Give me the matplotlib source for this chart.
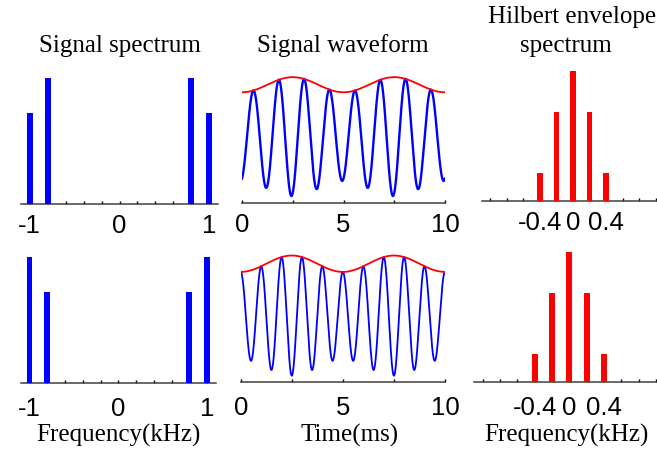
import numpy as np
import matplotlib
matplotlib.use('Agg')
import matplotlib.pyplot as plt

plt.rcParams['axes.unicode_minus'] = False

# Signal spectrum (kHz, relative magnitude)
spec_freqs = [-1.0, -0.8, 0.8, 1.0]
spec_top = [0.72, 1.0, 1.0, 0.72]
spec_bottom = [1.0, 0.72, 0.72, 1.0]

# Hilbert envelope spectrum
env_freqs = [-0.4, -0.2, 0.0, 0.2, 0.4]
env_spec_top = [0.215, 0.685, 1.0, 0.685, 0.215]
env_spec_bottom = [0.216, 0.687, 1.0, 0.687, 0.216]

# Waveform parameters
# carrier (kHz), time of first peak (ms), envelope mean, envelope swing
wave_carrier = [0.8, 1.0]
wave_peak_t = [0.56, 0.0]
wave_env_mean = [1.0, 1.0]
wave_env_depth = [0.146, 0.158]
env_rate = 0.2          # kHz, spacing of the envelope spectrum lines
t_max = 10.0            # ms

spec_ticks = [-1, -0.8, -0.6, -0.4, -0.2, 0, 0.2, 0.4, 0.6, 0.8, 1]
spec_labels = ['-1', '', '', '', '', '0', '', '', '', '', '1']
env_labels = ['', '', '', '-0.4', '', '0', '', '0.4', '', '', '']
time_ticks = [0, 2.5, 5, 7.5, 10]
time_labels = ['0', '', '5', '', '10']

W, H = 657, 449
BLUE = '#0000FF'
RED = '#FF0000'
AXC = '#404040'
TICK_FONT = {'family': 'Liberation Sans', 'size': 18.5}
SERIF = 'Liberation Serif'

fig = plt.figure(figsize=(W / 100, H / 100), dpi=100)
fig.patch.set_facecolor('white')


def px_axes(x0, x1, ybase, ytop):
    return fig.add_axes([x0 / W, 1 - ybase / H, (x1 - x0) / W, (ybase - ytop) / H])


def style(ax, ticks, labels, pad):
    for s in ['top', 'left', 'right']:
        ax.spines[s].set_visible(False)
    ax.spines['bottom'].set_color(AXC)
    ax.spines['bottom'].set_linewidth(1.1)
    ax.set_yticks([])
    ax.set_xticks(ticks)
    ax.set_xticklabels(labels, fontdict=TICK_FONT)
    ax.tick_params(axis='x', direction='in', length=2.5, width=1.0,
                   color='black', pad=pad)
    ax.patch.set_alpha(0)


rows = [
    dict(base=204, top=65, pad=7.5, spec=spec_top, env=env_spec_top,
         spec_x=(20.7, 218.3), wave_x=(242, 445), env_x=(481.7, 664.3), env_base=200.7),
    dict(base=383, top=244, pad=10.0, spec=spec_bottom, env=env_spec_bottom,
         spec_x=(20.7, 216.0), wave_x=(240.7, 445), env_x=(474.0, 664.5), env_base=381.7),
]

for i, r in enumerate(rows):
    # signal spectrum
    ax = px_axes(r['spec_x'][0], r['spec_x'][1], r['base'], r['top'])
    ax.bar(spec_freqs, r['spec'], width=0.065, color=BLUE, zorder=3)
    ax.set_xlim(-1.1, 1.1)
    ax.set_ylim(0, 1.1)
    style(ax, spec_ticks, spec_labels, r['pad'])

    # waveform with its envelope
    ax = px_axes(r['wave_x'][0], r['wave_x'][1], r['base'] - 1, r['base'] - 139)
    t = np.linspace(0, t_max, 2000)
    env = wave_env_mean[i] - wave_env_depth[i] * np.cos(2 * np.pi * env_rate * t)
    sig = env * np.cos(2 * np.pi * wave_carrier[i] * (t - wave_peak_t[i]))
    ax.plot(t, sig, color=BLUE, lw=1.7 if i == 0 else 1.3, zorder=3)
    ax.plot(t, env, color=RED, lw=1.3, zorder=4)
    ax.set_xlim(0, t_max)
    ax.set_ylim(-1.28, 1.38)
    style(ax, time_ticks, time_labels, r['pad'])

    # envelope spectrum
    ax = px_axes(r['env_x'][0], r['env_x'][1], r['env_base'], r['env_base'] - 136)
    ax.bar(env_freqs, r['env'], width=0.068, color=RED, zorder=3)
    ax.set_xlim(-1.1, 1.1)
    ax.set_ylim(0, 1.05)
    style(ax, spec_ticks, env_labels, r['pad'])

# column titles
fig.text(120 / W, 1 - 51.7 / H, 'Signal spectrum', family=SERIF, size=18,
         ha='center', va='baseline')
fig.text(342.5 / W, 1 - 51.7 / H, 'Signal waveform', family=SERIF, size=18,
         ha='center', va='baseline')
fig.text(572.5 / W, 1 - 23 / H, 'Hilbert envelope', family=SERIF, size=18,
         ha='center', va='baseline')
fig.text(566 / W, 1 - 52 / H, 'spectrum', family=SERIF, size=18,
         ha='center', va='baseline')

# bottom axis labels
fig.text(118.3 / W, 1 - 442 / H, 'Frequency(kHz)', family=SERIF, size=18,
         ha='center', va='baseline')
fig.text(350 / W, 1 - 442 / H, 'Time(ms)', family=SERIF, size=18,
         ha='center', va='baseline')
fig.text(566.7 / W, 1 - 442 / H, 'Frequency(kHz)', family=SERIF, size=18,
         ha='center', va='baseline')

fig.savefig('out.png', dpi=100, facecolor='white')
